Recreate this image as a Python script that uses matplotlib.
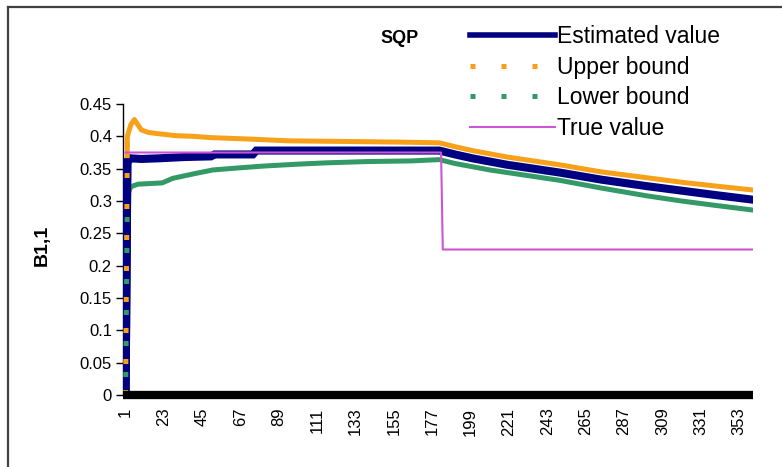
import numpy as np
import matplotlib
matplotlib.use("Agg")
import matplotlib.pyplot as plt
from matplotlib.lines import Line2D

plt.rcParams['font.family'] = ['Liberation Sans', 'DejaVu Sans']

# iteration index / value pairs for each series
est_x = [1, 2, 4, 10, 20, 35, 50, 52, 74, 76, 120, 181,
         190, 200, 210, 220, 235, 250, 274, 300, 320, 340, 361]
est_y = [0, 0.360, 0.366, 0.365, 0.366, 0.368, 0.369, 0.372, 0.372, 0.378, 0.378, 0.378,
         0.372, 0.366, 0.361, 0.356, 0.350, 0.344, 0.333, 0.323, 0.316, 0.309, 0.302]

up_x = [1, 2, 4, 6, 8, 10, 14, 20, 30, 40, 50, 70, 95, 130, 160, 181,
        190, 200, 210, 220, 235, 250, 274, 300, 320, 340, 361]
up_y = [0, 0.400, 0.418, 0.426, 0.418, 0.410, 0.406, 0.404, 0.401, 0.400, 0.398, 0.396,
        0.393, 0.392, 0.391, 0.390,
        0.384, 0.378, 0.373, 0.368, 0.362, 0.356, 0.345, 0.336, 0.329, 0.323, 0.317]

lo_x = [1, 2, 4, 8, 15, 22, 28, 40, 51, 65, 80, 100, 116, 140, 165, 181,
        190, 200, 210, 220, 235, 250, 274, 300, 320, 340, 361]
lo_y = [0, 0.310, 0.322, 0.326, 0.327, 0.328, 0.335, 0.342, 0.348, 0.351, 0.354, 0.357,
        0.359, 0.361, 0.362, 0.364,
        0.358, 0.353, 0.348, 0.344, 0.338, 0.332, 0.320, 0.308, 0.300, 0.293, 0.286]

true_x = [1, 182, 183, 361]
true_y = [0.375, 0.375, 0.225, 0.225]

xticks = list(range(1, 361, 22))
yticks = [0, 0.05, 0.1, 0.15, 0.2, 0.25, 0.3, 0.35, 0.4, 0.45]
ytick_labels = ['0', '0.05', '0.1', '0.15', '0.2', '0.25', '0.3', '0.35', '0.4', '0.45']

navy = '#000080'
orange = '#F7A11A'
green = '#339966'
pink = '#CC55D4'

fig = plt.figure(figsize=(7.82, 4.67), dpi=100)
ax = fig.add_axes([123/782, 72/467, (753-123)/782, (395-104)/467])

dot = (0, (1, 5.2))
ax.plot(est_x, est_y, color=navy, lw=5.8, solid_joinstyle='miter', zorder=3)
ax.plot(up_x, up_y, color=orange, lw=3.6, zorder=4)
ax.plot(lo_x, lo_y, color=green, lw=3.6, zorder=4)
# first segment of the bounds is long enough for the dots to show
ax.plot(est_x[:2], est_y[:2], color=navy, lw=5.8, zorder=4.4)
ax.plot(up_x[:2], up_y[:2], color=orange, lw=3.6, ls=dot, zorder=4.6)
ax.plot(lo_x[:2], lo_y[:2], color=green, lw=3.6, ls=(2.6, (1, 5.2)), zorder=4.7)
ax.plot(true_x, true_y, color=pink, lw=1.5, zorder=5)

ax.set_xlim(-0.5, 361)
ax.set_ylim(0, 0.45)
ax.set_xticks(xticks)
ax.set_xticklabels([str(t) for t in xticks], rotation=90, fontsize=12)
ax.set_yticks(yticks)
ax.set_yticklabels(ytick_labels, fontsize=12)
ax.tick_params(axis='x', length=0, pad=9)
ax.tick_params(axis='y', length=5, width=1, direction='out', pad=3)

for s in ['top', 'right']:
    ax.spines[s].set_visible(False)
ax.spines['left'].set_linewidth(1)
ax.spines['bottom'].set_linewidth(6)
ax.spines['bottom'].set_capstyle('butt')
ax.spines['bottom'].set_zorder(6)

fig.text(42/782, 1-245/467, 'B1,1', rotation=90, fontsize=14, fontweight='bold',
         ha='center', va='center')
fig.text(380/782, 1-43/467, 'SQP', fontsize=13, fontweight='bold', ha='left', va='baseline')

handles = [
    Line2D([], [], color=navy, lw=4),
    Line2D([], [], color=orange, lw=3.6, ls=dot),
    Line2D([], [], color=green, lw=3.6, ls=dot),
    Line2D([], [], color=pink, lw=1.5),
]
labels = ['Estimated value', 'Upper bound', 'Lower bound', 'True value']
fig.legend(handles, labels, loc='upper left', bbox_to_anchor=(470/782, 1-25/467),
           frameon=False, fontsize=16.5, handlelength=3.7, handletextpad=0.1,
           labelspacing=0.33, borderpad=0, borderaxespad=0)

# outer chart border
fig.add_artist(Line2D([8/782, 8/782], [0, 1-7/467], color='#404040', lw=1.6))
fig.add_artist(Line2D([8/782, 1], [1-7/467, 1-7/467], color='#404040', lw=1.6))

fig.savefig('out.png', dpi=100)
